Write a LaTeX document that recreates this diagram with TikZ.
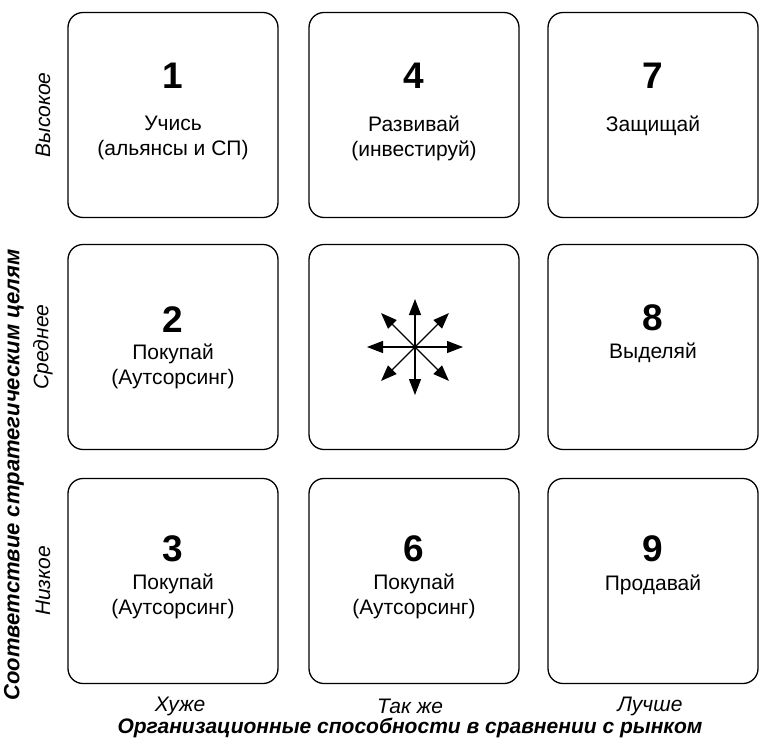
\documentclass[tikz,border=0pt]{standalone}
\usepackage{fontspec}
\setmainfont{Liberation Sans}
\usetikzlibrary{arrows.meta}
\begin{document}
\begin{tikzpicture}[x=1pt,y=-1pt,
  cell/.style={draw=black, line width=1.3pt, rounded corners=15pt,
    minimum width=210pt, minimum height=205pt, inner sep=0pt},
  num/.style={font=\fontsize{37}{42}\selectfont\bfseries, inner sep=0pt},
  txt/.style={font=\fontsize{21}{25}\selectfont, align=center, inner sep=0pt, anchor=north},
  lvl/.style={font=\fontsize{21}{25}\selectfont\itshape, inner sep=0pt},
  axis/.style={font=\fontsize{21}{25}\selectfont\bfseries\itshape, inner sep=0pt},
  ray/.style={line width=1.2pt, -{Triangle[length=16pt,width=12pt]}}]
  \useasboundingbox (0,0) rectangle (761,739);

  % 3 x 3 grid of cells
  \node[cell] (box1) at (173,115) {};
  \node[cell] (box4) at (414,115) {};
  \node[cell] (box7) at (653,115) {};
  \node[cell] (box2) at (173,347) {};
  \node[cell] (box5) at (414,347) {};
  \node[cell] (box8) at (653,347) {};
  \node[cell] (box3) at (173,581) {};
  \node[cell] (box6) at (414,581) {};
  \node[cell] (box9) at (653,581) {};

  % cell contents
  \node[num] (n1) at (173,76) {1};
  \node[txt] (t1) at (173,116) {Учись\\(альянсы и СП)};
  \node[num] (n4) at (414,76) {4};
  \node[txt] (t4) at (414,116) {Развивай\\(инвестируй)};
  \node[num] (n7) at (653,76) {7};
  \node[txt] (t7) at (653,116) {Защищай};
  \node[num] (n2) at (173,320) {2};
  \node[txt] (t2) at (173,344) {Покупай\\(Аутсорсинг)};
  \node[num] (n8) at (653,318) {8};
  \node[txt] (t8) at (653,343) {Выделяй};
  \node[num] (n3) at (173,549) {3};
  \node[txt] (t3) at (173,574) {Покупай\\(Аутсорсинг)};
  \node[num] (n6) at (414,549) {6};
  \node[txt] (t6) at (414,574) {Покупай\\(Аутсорсинг)};
  \node[num] (n9) at (653,549) {9};
  \node[txt] (t9) at (653,575) {Продавай};

  % eight-way arrow star in the middle cell
  \coordinate (hub) at (415,347);
  \foreach \a in {0,45,...,315}
    \draw[ray] (hub) -- ++(\a:48);

  % row levels
  \node[lvl, rotate=90] (hi)  at (43,115) {Высокое};
  \node[lvl, rotate=90] (mid) at (43,347) {Среднее};
  \node[lvl, rotate=90] (lo)  at (43,581) {Низкое};

  % column levels
  \node[lvl] (worse) at (180,706) {Хуже};
  \node[lvl] (same)  at (410,706) {Так же};
  \node[lvl] (better) at (650,706) {Лучше};

  % axis titles
  \node[axis, rotate=90, font=\fontsize{22}{26}\selectfont\bfseries\itshape] (ytitle) at (14,475) {Соответствие стратегическим целям};
  \node[axis] (xtitle) at (410,728) {Организационные способности в сравнении с рынком};
\end{tikzpicture}
\end{document}
